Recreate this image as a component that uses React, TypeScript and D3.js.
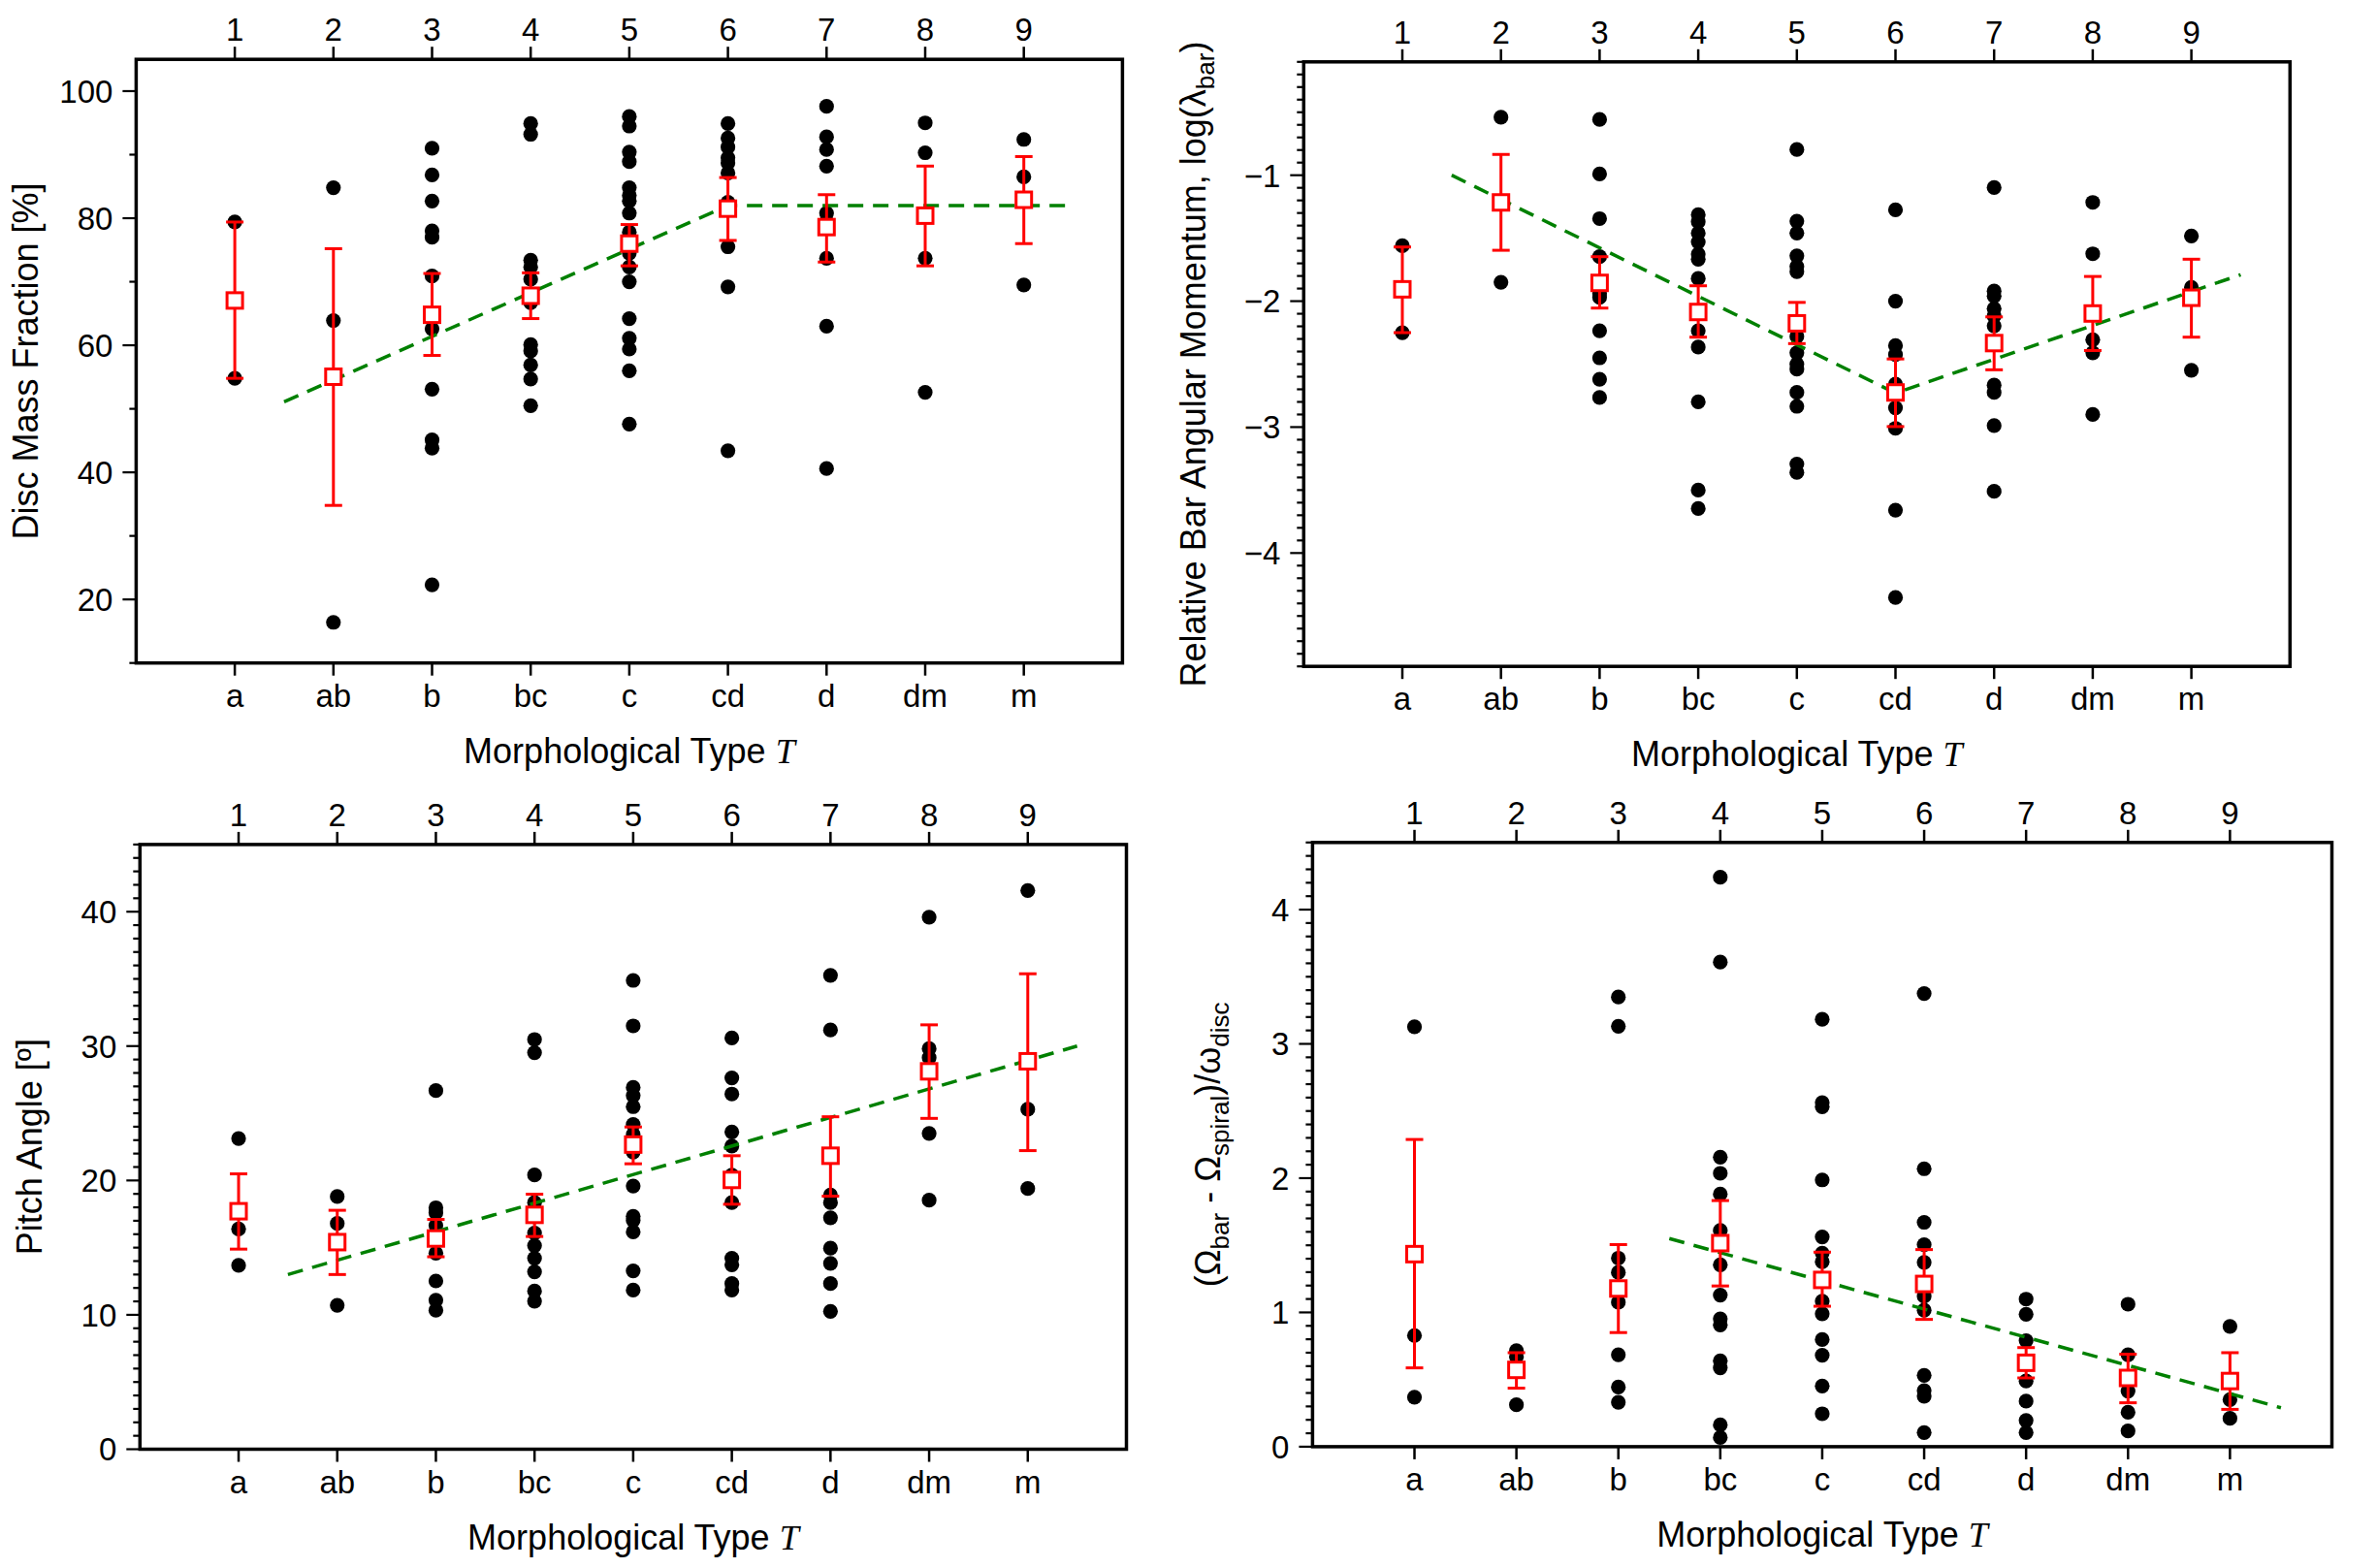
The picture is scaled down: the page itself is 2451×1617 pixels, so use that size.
import React from 'react';
import * as d3 from 'd3';

// ---------- shared categories ----------
const typeLetters = ['a', 'ab', 'b', 'bc', 'c', 'cd', 'd', 'dm', 'm'];
const typeNumbers = ['1', '2', '3', '4', '5', '6', '7', '8', '9'];

// ---------- Panel 1: Disc mass fraction ----------
const discPoints = [
  [79.4, 54.8],
  [84.8, 63.9, 16.4],
  [91.0, 86.8, 82.7, 78.0, 77.0, 70.9, 62.6, 53.1, 45.1, 43.8, 22.3],
  [94.9, 93.2, 73.4, 72.3, 70.4, 66.7, 60.1, 59.1, 56.9, 54.7, 50.5],
  [96.0, 94.5, 90.4, 88.9, 84.8, 83.6, 82.7, 80.8, 77.8, 74.5, 72.3, 70.0, 64.2, 61.1, 59.4, 56.0, 47.6],
  [94.9, 92.6, 91.2, 89.5, 88.7, 87.1, 82.5, 75.5, 69.2, 43.4],
  [97.6, 92.8, 90.8, 88.2, 80.8, 79.5, 73.7, 63.0, 40.6],
  [95.0, 90.3, 73.7, 52.6],
  [92.4, 86.5, 69.5],
];
const discMean = [67.05, 55.05, 64.8, 67.8, 76.0, 81.5, 78.6, 80.4, 82.9];
const discHigh = [79.4, 75.2, 71.3, 71.4, 79.0, 86.4, 83.7, 88.2, 89.7];
const discLow = [54.8, 34.8, 58.4, 64.2, 72.5, 76.5, 73.1, 72.5, 76.0];
const discFit = [[1.5, 51.1], [6, 82.0], [9.5, 82.0]];
const discMajor = [20, 40, 60, 80, 100];

// ---------- Panel 2: bar angular momentum ----------
const lambdaPoints = [
  [-1.56, -2.25],
  [-0.54, -1.85],
  [-0.557, -0.99, -1.345, -1.647, -1.94, -1.97, -2.235, -2.45, -2.62, -2.765],
  [-1.314, -1.37, -1.46, -1.53, -1.627, -1.667, -1.82, -2.235, -2.365, -2.8, -3.5, -3.647],
  [-0.796, -1.365, -1.459, -1.64, -1.725, -1.765, -2.28, -2.41, -2.5, -2.54, -2.725, -2.835, -3.294, -3.36],
  [-1.275, -2.0, -2.353, -2.424, -2.659, -2.745, -2.847, -3.01, -3.659, -4.353],
  [-1.098, -1.92, -1.96, -2.06, -2.118, -2.196, -2.667, -2.725, -2.988, -3.51],
  [-1.216, -1.624, -2.306, -2.41, -2.9],
  [-1.482, -1.89, -2.549],
];
const lambdaMean = [-1.906, -1.216, -1.855, -2.086, -2.176, -2.725, -2.333, -2.098, -1.973];
const lambdaHigh = [-1.57, -0.835, -1.647, -1.878, -2.01, -2.459, -2.125, -1.804, -1.667];
const lambdaLow = [-2.25, -1.596, -2.055, -2.286, -2.337, -2.996, -2.545, -2.392, -2.286];
const lambdaFit = [[1.5, -1.0], [6, -2.73], [9.5, -1.79]];
const lambdaMajor = [-4, -3, -2, -1];

// ---------- Panel 3: pitch angle ----------
const pitchPoints = [
  [23.12, 16.39, 13.68],
  [18.8, 16.8, 10.71],
  [26.69, 17.97, 17.59, 16.65, 15.5, 14.59, 12.52, 11.09, 10.34],
  [30.49, 29.51, 20.41, 18.35, 17.3, 16.09, 15.15, 14.21, 13.2, 11.77, 11.02],
  [34.89, 31.5, 26.92, 26.32, 25.49, 24.17, 23.42, 22.11, 19.59, 17.33, 17.03, 16.17, 13.27, 11.84],
  [30.6, 27.63, 26.43, 23.61, 22.56, 20.4, 18.35, 14.21, 13.72, 12.33, 11.84],
  [35.26, 31.2, 18.91, 18.35, 17.22, 14.96, 13.83, 12.33, 10.26],
  [39.59, 29.81, 29.14, 23.5, 18.53],
  [41.58, 25.3, 19.4],
];
const pitchMean = [17.71, 15.41, 15.68, 17.44, 22.67, 20.04, 21.84, 28.12, 28.87];
const pitchHigh = [20.49, 17.78, 17.1, 18.98, 23.98, 21.84, 24.74, 31.58, 35.38];
const pitchLow = [14.89, 13.0, 14.32, 15.83, 21.24, 18.23, 18.83, 24.62, 22.22];
const pitchFit = [[1.5, 13.0], [9.5, 30.0]];
const pitchMajor = [0, 10, 20, 30, 40];

// ---------- Panel 4: pattern speed difference ----------
const omegaPoints = [
  [3.127, 0.828, 0.369],
  [0.715, 0.67, 0.312],
  [3.349, 3.131, 1.404, 1.298, 1.076, 0.685, 0.444, 0.331],
  [4.241, 3.609, 2.156, 2.036, 1.881, 1.611, 1.355, 1.129, 0.952, 0.907, 0.64, 0.587, 0.162, 0.068],
  [3.183, 2.563, 2.532, 1.987, 1.562, 1.441, 1.377, 1.084, 0.99, 0.798, 0.681, 0.452, 0.245],
  [3.375, 2.07, 1.671, 1.505, 1.373, 1.121, 1.016, 0.531, 0.418, 0.376, 0.105],
  [1.099, 0.986, 0.79, 0.489, 0.339, 0.196, 0.105],
  [1.061, 0.685, 0.414, 0.256, 0.117],
  [0.896, 0.35, 0.211],
];
const omegaMean = [1.434, 0.572, 1.178, 1.516, 1.242, 1.212, 0.625, 0.512, 0.489];
const omegaHigh = [2.288, 0.7, 1.505, 1.833, 1.449, 1.468, 0.738, 0.689, 0.7];
const omegaLow = [0.587, 0.436, 0.85, 1.197, 1.046, 0.948, 0.512, 0.327, 0.278];
const omegaFit = [[3.5, 1.55], [9.5, 0.29]];
const omegaMajor = [0, 1, 2, 3, 4];

// ---------- styling ----------
const SANS = '"Liberation Sans", Arial, Helvetica, sans-serif';
const SERIF = '"Liberation Serif", "Times New Roman", serif';
const TICK_FONT = 33;
const TITLE_FONT = 36;
const SUB_FONT = 26;
const RED = '#ff0000';
const GREEN = '#008000';

type PanelProps = {
  left: number; top: number; right: number; bottom: number;
  yDomain: [number, number];
  major: number[];
  minorStep: number;
  points: number[][];
  mean: number[]; high: number[]; low: number[];
  fit: number[][];
  title: React.ReactNode;
  titleOffset: number;
};

function Panel(p: PanelProps) {
  const x = d3.scaleLinear().domain([0, 10]).range([p.left, p.right]);
  const y = d3.scaleLinear().domain(p.yDomain).range([p.bottom, p.top]);
  const i0 = Math.ceil(p.yDomain[0] / p.minorStep - 1e-6);
  const i1 = Math.floor(p.yDomain[1] / p.minorStep + 1e-6);
  const minor = d3.range(i0, i1 + 1).map((i) => i * p.minorStep)
    .filter((v) => !p.major.some((m) => Math.abs(m - v) < 1e-6));
  const fmt = d3.format('');
  const line = d3.line<number[]>().x((d) => x(d[0])).y((d) => y(d[1]));
  const cats = typeLetters.map((_, i) => i + 1);
  const midY = (p.top + p.bottom) / 2;
  const midX = (p.left + p.right) / 2;
  const sq = 16;
  const cap = 9;

  return (
    <g>
      {/* points */}
      {p.points.map((col, i) =>
        col.map((v, j) => (
          <circle key={`p${i}-${j}`} cx={x(cats[i])} cy={y(v)} r={7.6} fill="#000" />
        ))
      )}
      {/* fit line */}
      <path d={line(p.fit) || ''} fill="none" stroke={GREEN} strokeWidth={3.5}
        strokeDasharray="16 10" />
      {/* error bars + mean squares */}
      {cats.map((c, i) => (
        <g key={`e${i}`} stroke={RED} strokeWidth={3}>
          <line x1={x(c)} x2={x(c)} y1={y(p.high[i])} y2={y(p.low[i])} />
          <line x1={x(c) - cap} x2={x(c) + cap} y1={y(p.high[i])} y2={y(p.high[i])} />
          <line x1={x(c) - cap} x2={x(c) + cap} y1={y(p.low[i])} y2={y(p.low[i])} />
          <rect x={x(c) - sq / 2} y={y(p.mean[i]) - sq / 2} width={sq} height={sq} fill="#fff" />
        </g>
      ))}
      {/* frame */}
      <rect x={p.left} y={p.top} width={p.right - p.left} height={p.bottom - p.top}
        fill="none" stroke="#000" strokeWidth={3.5} />
      {/* left ticks */}
      {p.major.map((v) => (
        <g key={`M${v}`}>
          <line x1={p.left - 14} x2={p.left} y1={y(v)} y2={y(v)} stroke="#000" strokeWidth={2.2} />
          <text x={p.left - 24} y={y(v)} dy="0.36em" textAnchor="end"
            fontFamily={SANS} fontSize={TICK_FONT}>{fmt(v)}</text>
        </g>
      ))}
      {minor.map((v) => (
        <line key={`m${v}`} x1={p.left - 7} x2={p.left} y1={y(v)} y2={y(v)} stroke="#000" strokeWidth={2.2} />
      ))}
      {/* top & bottom ticks */}
      {cats.map((c, i) => (
        <g key={`t${i}`}>
          <line x1={x(c)} x2={x(c)} y1={p.top - 13} y2={p.top} stroke="#000" strokeWidth={2.5} />
          <text x={x(c)} y={p.top - 19} textAnchor="middle" fontFamily={SANS}
            fontSize={TICK_FONT}>{typeNumbers[i]}</text>
          <line x1={x(c)} x2={x(c)} y1={p.bottom} y2={p.bottom + 13} stroke="#000" strokeWidth={2.5} />
          <text x={x(c)} y={p.bottom + 45} textAnchor="middle" fontFamily={SANS}
            fontSize={TICK_FONT}>{typeLetters[i]}</text>
        </g>
      ))}
      {/* x title */}
      <text x={midX} y={p.bottom + 103} textAnchor="middle" fontFamily={SANS} fontSize={TITLE_FONT}>
        Morphological Type <tspan fontFamily={SERIF} fontStyle="italic">T</tspan>
      </text>
      {/* y title */}
      <text transform={`translate(${p.left - p.titleOffset},${midY}) rotate(-90)`}
        textAnchor="middle" fontFamily={SANS} fontSize={TITLE_FONT}>
        {p.title}
      </text>
    </g>
  );
}

const Sub = ({ children }: { children: React.ReactNode }) => (
  <tspan fontSize={SUB_FONT} dy={9}>{children}</tspan>
);
const Up = ({ children }: { children: React.ReactNode }) => (
  <tspan dy={-9}>{children}</tspan>
);

export default function App() {
  return (
    <svg width={2451} height={1617} viewBox="0 0 2451 1617"
      style={{ position: 'absolute', left: 0, top: 0, background: '#fff' }}>
      <rect x={0} y={0} width={2451} height={1617} fill="#fff" />
      <Panel left={140.4} top={61.2} right={1157.4} bottom={683.7}
        yDomain={[10, 105]} major={discMajor} minorStep={10}
        points={discPoints} mean={discMean} high={discHigh} low={discLow} fit={discFit}
        title={'Disc Mass Fraction [%]'} titleOffset={101} />
      <Panel left={1344.3} top={63.8} right={2361.3} bottom={687.2}
        yDomain={[-4.9, -0.1]} major={lambdaMajor} minorStep={0.1}
        points={lambdaPoints} mean={lambdaMean} high={lambdaHigh} low={lambdaLow} fit={lambdaFit}
        title={<>Relative Bar Angular Momentum, log(λ<Sub>bar</Sub><Up>)</Up></>} titleOffset={101} />
      <Panel left={144.3} top={870.9} right={1161.5} bottom={1494.5}
        yDomain={[0, 45]} major={pitchMajor} minorStep={1}
        points={pitchPoints} mean={pitchMean} high={pitchHigh} low={pitchLow} fit={pitchFit}
        title={'Pitch Angle [º]'} titleOffset={101} />
      <Panel left={1353.4} top={868.8} right={2404.5} bottom={1491.9}
        yDomain={[0, 4.5]} major={omegaMajor} minorStep={0.1}
        points={omegaPoints} mean={omegaMean} high={omegaHigh} low={omegaLow} fit={omegaFit}
        title={<>(Ω<Sub>bar</Sub><Up> - Ω</Up><Sub>spiral</Sub><Up>)/ω</Up><Sub>disc</Sub></>}
        titleOffset={95} />
    </svg>
  );
}
